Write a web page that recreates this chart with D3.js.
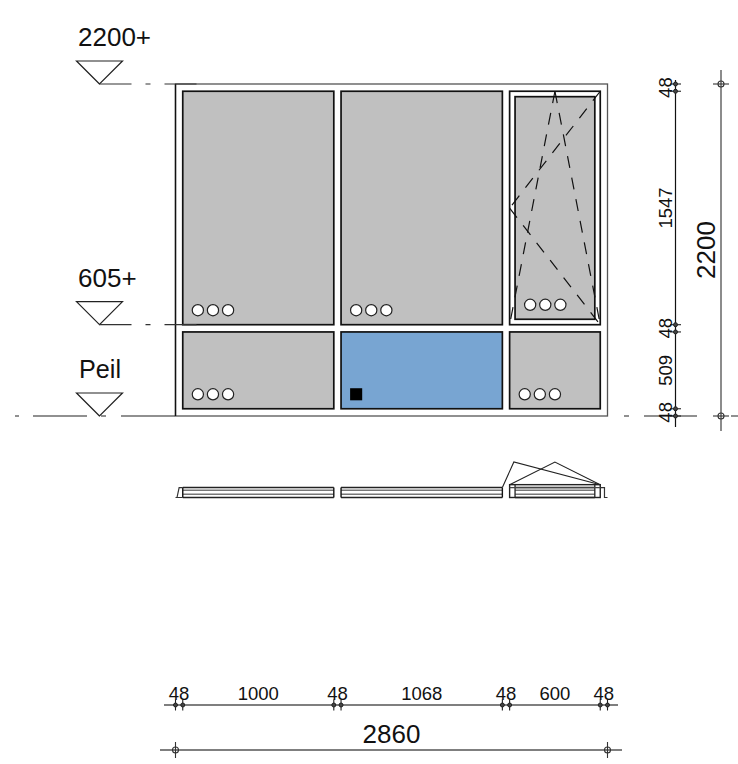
<!DOCTYPE html>
<html>
<head>
<meta charset="utf-8">
<style>
  html, body { margin: 0; background: #fff; }
  text { font-family: "Liberation Sans", Arial, sans-serif; fill: #111; }
</style>
<script src="https://cdnjs.cloudflare.com/ajax/libs/d3/7.8.5/d3.min.js"></script>
</head>
<body>
<script>
const WIDTH = 738;
const HEIGHT = 764;

// all sizes in mm
const widthChain = [48, 1000, 48, 1068, 48, 600, 48];
const heightChain = [48, 509, 48, 1547, 48];
const totalWidth = 2860;
const totalHeight = 2200;

// level marks
const levelValues = [2200, 605, 0];
const levelLabels = ["2200+", "605+", "Peil"];

// glass panes
const paneX = [48, 1096, 2248, 48, 1096, 2212];
const paneW = [1000, 1068, 528, 1000, 1068, 600];
const paneY = [605, 605, 641, 48, 48, 48];
const paneH = [1547, 1547, 1475, 509, 509, 509];
const paneKind = ["grey", "grey", "grey", "grey", "blue", "grey"];
const paneMark = ["dots", "dots", "dots", "dots", "square", "dots"];
const dotOffsets = [100, 200, 300];
const markRise = 96;
const squareSide = 80;

// opening sash, dashed swing lines
const sashX = [2212, 2812];
const sashY = [605, 2152];
const swingLines = [
  [[2512, 2152], [2212, 605]],
  [[2512, 2152], [2812, 605]],
  [[2812, 2152], [2212, 1378]],
  [[2212, 1378], [2812, 605]]
];

// section below the elevation: rail depths and the swing of the sash
const railDepths = [0, 22, 48, 66];
const railSpans = [[48, 1048], [1096, 2164], [2248, 2776]];
const sashDepth = 85;
const swingApexX = 2512;
const swingApexDepth = 235;
const swingBackX = 2240;

const COLORS = { grey: "#c0c0c0", blue: "#78a5d2" };

const svg = d3.select("body").append("svg")
  .attr("width", WIDTH)
  .attr("height", HEIGHT)
  .style("display", "block");

const x = d3.scaleLinear().domain([0, totalWidth]).range([175.5, 607.5]);
const y = d3.scaleLinear().domain([0, totalHeight]).range([416, 84]);
const depth = d3.scaleLinear().domain([0, 235]).range([497.5, 462]);

const xEdges = [0, ...d3.cumsum(widthChain)];
const yEdges = [0, ...d3.cumsum(heightChain)];
const mids = (edges) => edges.slice(1).map((e, i) => (e + edges[i]) / 2);

const seg = (g, x1, y1, x2, y2, color, w) => g.append("line")
  .attr("x1", x1).attr("y1", y1).attr("x2", x2).attr("y2", y2)
  .attr("stroke", color).attr("stroke-width", w);

//the frame
const frame = svg.append("g");
frame.append("rect")
  .attr("x", x(0)).attr("y", y(totalHeight))
  .attr("width", x(totalWidth) - x(0)).attr("height", y(0) - y(totalHeight))
  .attr("fill", "#fff").attr("stroke", "#555").attr("stroke-width", 1.3);
seg(frame, x(0), y(totalHeight), x(0), y(0), "#111", 1.4);

//the sash outline, behind the pane
frame.append("rect")
  .attr("x", x(sashX[0])).attr("y", y(sashY[1]))
  .attr("width", x(sashX[1]) - x(sashX[0])).attr("height", y(sashY[0]) - y(sashY[1]))
  .attr("fill", "#fff").attr("stroke", "#111").attr("stroke-width", 1.7);

//the panes
frame.selectAll("rect.pane")
  .data(paneX.map((d, i) => i))
  .enter().append("rect")
  .attr("class", "pane")
  .attr("x", i => x(paneX[i]))
  .attr("y", i => y(paneY[i] + paneH[i]))
  .attr("width", i => x(paneX[i] + paneW[i]) - x(paneX[i]))
  .attr("height", i => y(paneY[i]) - y(paneY[i] + paneH[i]))
  .attr("fill", i => COLORS[paneKind[i]])
  .attr("stroke", "#111")
  .attr("stroke-width", 1.7);

//marks in the panes
paneX.forEach((px, i) => {
  const cy = y(paneY[i] + markRise);
  if (paneMark[i] === "dots") {
    frame.selectAll(null)
      .data(dotOffsets)
      .enter().append("circle")
      .attr("cx", d => x(px + d))
      .attr("cy", cy)
      .attr("r", 5.6)
      .attr("fill", "#fff")
      .attr("stroke", "#222")
      .attr("stroke-width", 1.2);
  } else {
    const side = x(squareSide) - x(0);
    frame.append("rect")
      .attr("x", x(px + dotOffsets[0]) - side / 2)
      .attr("y", cy - side / 2)
      .attr("width", side)
      .attr("height", side)
      .attr("fill", "#000");
  }
});

//dashed swing lines
svg.append("g").selectAll("line")
  .data(swingLines)
  .enter().append("line")
  .attr("x1", d => x(d[0][0])).attr("y1", d => y(d[0][1]))
  .attr("x2", d => x(d[1][0])).attr("y2", d => y(d[1][1]))
  .attr("stroke", "#111")
  .attr("stroke-width", 1.2)
  .attr("stroke-dasharray", "12 10");

//level marks on the left
const levels = svg.append("g");
levelValues.forEach((v, i) => {
  const ly = y(v);
  const tip = 99.5;
  levels.append("path")
    .attr("d", d3.line()([[tip, ly], [tip - 23, ly - 23], [tip + 23, ly - 23]]) + "Z")
    .attr("fill", "#fff").attr("stroke", "#222").attr("stroke-width", 1.2);
  levels.append("text")
    .attr("x", v === 0 ? 79 : 78)
    .attr("y", ly - 38)
    .attr("font-size", v === 0 ? 25.2 : 26)
    .text(levelLabels[i]);
  if (v === 0) {
    seg(levels, 15, ly, 175, ly, "#222", 1.2).attr("stroke-dasharray", "4 14 54 14 5 15 54");
    seg(levels, 624, ly, 738, ly, "#222", 1.2).attr("stroke-dasharray", "5 15 53 34 7");
  } else {
    seg(levels, tip, ly, 197, ly, "#333", 1.2).attr("stroke-dasharray", "32 14 5 14 32");
  }
});

//section
const section = svg.append("g").attr("fill", "none");
railSpans.forEach(span => {
  railDepths.forEach((d, i) => {
    seg(section, x(span[0]), depth(d), x(span[1]), depth(d), i === 1 || i === 2 ? "#777" : "#222", 1.4);
  });
});
[xEdges[1], xEdges[2], xEdges[3], xEdges[4]].forEach(e => {
  seg(section, x(e), depth(0), x(e), depth(railDepths[3]), "#111", 1.4);
});
section.append("rect")
  .attr("x", x(sashX[0])).attr("y", depth(sashDepth))
  .attr("width", x(sashX[1]) - x(sashX[0])).attr("height", depth(0) - depth(sashDepth))
  .attr("stroke", "#222").attr("stroke-width", 1.4);
[paneX[2], paneX[2] + paneW[2]].forEach(e => {
  seg(section, x(e), depth(0), x(e), depth(sashDepth), "#222", 1.3);
});
seg(section, x(sashX[0]), depth(railDepths[3]), x(sashX[1]), depth(railDepths[3]), "#444", 1.2);
section.append("path")
  .attr("d", d3.line()([[x(0), depth(0)], [x(48), depth(0)]]) + d3.line()([[x(10), depth(0)], [x(24), depth(66)], [x(48), depth(66)]]))
  .attr("stroke", "#333").attr("stroke-width", 1.2);
section.append("path")
  .attr("d", d3.line()([[x(2812), depth(66)], [x(2840), depth(66)], [x(2840), depth(0)], [x(2860), depth(0)]]))
  .attr("stroke", "#333").attr("stroke-width", 1.2);
section.append("path")
  .attr("d", d3.line()([[x(sashX[0]), depth(sashDepth)], [x(swingApexX), depth(swingApexDepth)], [x(sashX[1]), depth(sashDepth)]]))
  .attr("stroke", "#222").attr("stroke-width", 1.1);
section.append("path")
  .attr("d", d3.line()([[x(2164), depth(66)], [x(swingBackX), depth(swingApexDepth)], [x(sashX[1]), depth(sashDepth)]]))
  .attr("stroke", "#222").attr("stroke-width", 1.1);

//dimension chains
const tickSmall = (g, px, py, vertical, color) => {
  if (vertical) seg(g, px, py - 5.5, px, py + 5.5, color, 1.1);
  else seg(g, px - 5.5, py, px + 5.5, py, color, 1.1);
  g.append("circle").attr("cx", px).attr("cy", py).attr("r", 2)
    .attr("fill", "#444").attr("stroke", color).attr("stroke-width", 1);
};
const tickBig = (g, px, py, vertical, color) => {
  if (vertical) seg(g, px, py - 8, px, py + 8, color, 1.1);
  else seg(g, px - 8, py, px + 8, py, color, 1.1);
  g.append("circle").attr("cx", px).attr("cy", py).attr("r", 3)
    .attr("fill", "none").attr("stroke", color).attr("stroke-width", 1.1);
};

const chainRight = svg.append("g");
const rightX = 675.5;
seg(chainRight, rightX, 80, rightX, 427, "#111", 1.2);
yEdges.forEach(e => tickSmall(chainRight, rightX, y(e), false, "#222"));
chainRight.selectAll("text")
  .data(heightChain)
  .enter().append("text")
  .attr("transform", (d, i) => `translate(${rightX - 4},${y(mids(yEdges)[i])}) rotate(-90)`)
  .attr("text-anchor", "middle")
  .attr("font-size", 18.5)
  .text(d => d);

const totalRight = svg.append("g");
const totalX = 721;
seg(totalRight, totalX, 70, totalX, 431, "#666", 1.5);
[0, totalHeight].forEach(e => tickBig(totalRight, totalX, y(e), false, "#333"));
totalRight.append("text")
  .attr("transform", `translate(${totalX - 6},${y(totalHeight / 2)}) rotate(-90)`)
  .attr("text-anchor", "middle")
  .attr("font-size", 26)
  .text(totalHeight);

const chainBottom = svg.append("g");
const bottomY = 705;
seg(chainBottom, 164, bottomY, 618, bottomY, "#555", 1.4);
xEdges.forEach(e => tickSmall(chainBottom, x(e), bottomY, true, "#222"));
chainBottom.selectAll("text")
  .data(widthChain)
  .enter().append("text")
  .attr("x", (d, i) => x(mids(xEdges)[i]))
  .attr("y", bottomY - 5)
  .attr("text-anchor", "middle")
  .attr("font-size", 18.5)
  .text(d => d);

const totalBottom = svg.append("g");
const totalY = 750;
seg(totalBottom, 160, totalY, 622, totalY, "#555", 1.4);
[0, totalWidth].forEach(e => tickBig(totalBottom, x(e), totalY, true, "#333"));
totalBottom.append("text")
  .attr("x", x(totalWidth / 2))
  .attr("y", totalY - 7)
  .attr("text-anchor", "middle")
  .attr("font-size", 26)
  .text(totalWidth);
</script>
</body>
</html>
